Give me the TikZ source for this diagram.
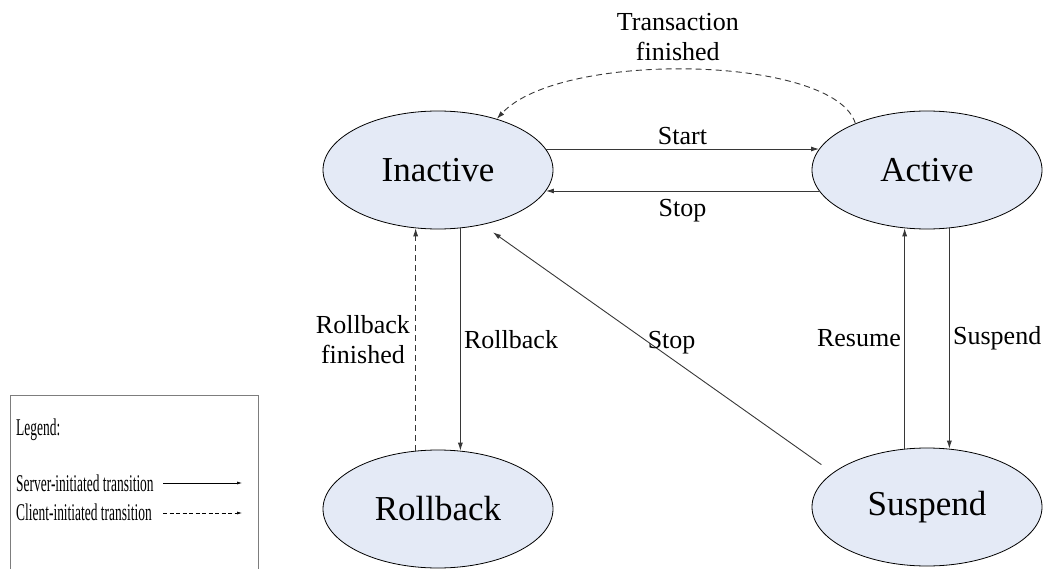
\documentclass[tikz,border=0pt]{standalone}
\usepackage{fontspec}
\setmainfont{Liberation Serif}
\newfontfamily\legendfont[FakeStretch=0.56]{Liberation Serif}
\usetikzlibrary{shapes.geometric,arrows.meta}
\definecolor{statefill}{RGB}{228,234,246}
\definecolor{linegray}{RGB}{55,55,55}
\definecolor{boxgray}{RGB}{125,125,125}

\begin{document}
\begin{tikzpicture}[x=1pt,y=-1pt,
    statenode/.style={ellipse,draw,fill=statefill,line width=0.8pt,minimum width=230pt,
      minimum height=118pt,inner sep=0pt,font=\fontsize{35}{40}\selectfont},
    lbl/.style={font=\fontsize{26}{30}\selectfont},
    server/.style={draw=linegray,line width=0.9pt,-{Latex[length=8pt,width=5pt]}},
    client/.style={server,dash pattern=on 6pt off 4pt},
    legtext/.style={anchor=west,inner sep=0pt,font=\legendfont\fontsize{24}{28}\selectfont},
    legarrow/.style={draw=black,line width=0.6pt,-{Latex[length=5pt,width=3pt]}}]
  \useasboundingbox (0,0) rectangle (1051,569);
  \clip (0,0) rectangle (1051,569);

  % states
  \node[statenode] (inactive) at (438,170) {Inactive};
  \node[statenode] (active) at (927,170) {Active};
  \node[statenode] (rollback) at (438,509) {Rollback};
  \node[statenode] (suspend) at (927,507) {Suspend};

  % transitions
  \draw[server] (inactive.11) -- node[lbl,above] {Start} (active.169);
  \draw[server] (active.191) -- node[lbl,below=5pt] {Stop} (inactive.349);
  \draw[client] (active.147) .. controls (835,55) and (560,50) ..
    node[lbl,pos=0.53,above,align=center,inner sep=8pt] {Transaction\\finished} (inactive.41);

  \draw[client] (rollback.111) -- node[lbl,left,align=center,xshift=-2pt] {Rollback\\finished} (inactive.249);
  \draw[server] (inactive.291) -- node[lbl,right] {Rollback} (rollback.69);

  \draw[server] (suspend.111) -- node[lbl,left] {Resume} (active.249);
  \draw[server] (active.291) -- node[lbl,right] {Suspend} (suspend.69);

  \draw[server,shorten <=14pt,shorten >=13pt] (suspend.160) --
    node[lbl,pos=0.46,yshift=16pt] {Stop} (inactive.309);

  % legend
  \draw[boxgray,line width=1pt] (10,395) rectangle (258,600);
  \node[legtext] (legtitle) at (16,430) {Legend:};
  \node[legtext] (legserver) at (16,483) {Server-initiated transition};
  \node[legtext] (legclient) at (16,512) {Client-initiated transition};
  \coordinate (srvA) at (163,483);
  \coordinate (srvB) at (242,483);
  \coordinate (cltA) at (163,513);
  \coordinate (cltB) at (242,513);
  \draw[legarrow] (srvA) -- (srvB);
  \draw[legarrow,dash pattern=on 4pt off 2.5pt] (cltA) -- (cltB);
\end{tikzpicture}
\end{document}
